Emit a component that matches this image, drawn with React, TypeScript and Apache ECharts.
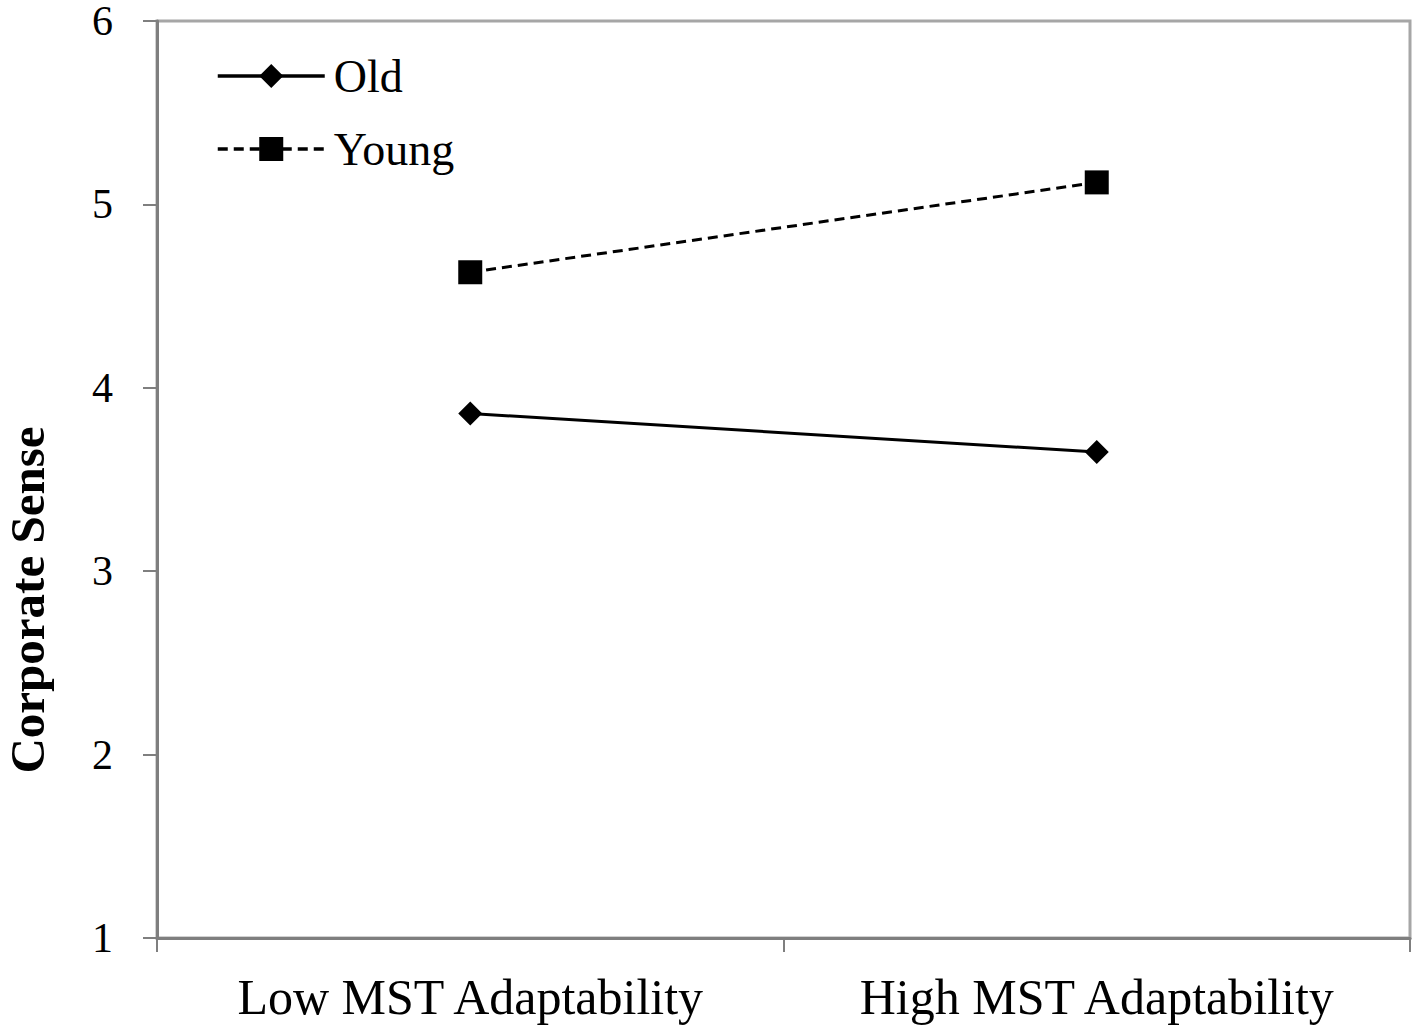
import React, { useEffect, useRef } from "react";
import * as echarts from "echarts";

const categories = ["Low MST Adaptability", "High MST Adaptability"];
const oldValues = [3.86, 3.65];
const youngValues = [4.63, 5.12];
const yTicks = { min: 1, max: 6, interval: 1 };
const yTitle = "Corporate Sense";

const FONT = "'Liberation Serif', 'Times New Roman', serif";

export default function App() {
  const ref = useRef<HTMLDivElement>(null);
  useEffect(() => {
    if (!ref.current) return;
    const chart = echarts.init(ref.current, undefined, { renderer: "svg" });
    chart.setOption({
      animation: false,
      backgroundColor: "#ffffff",
      grid: {
        left: 157,
        top: 20,
        right: 8,
        bottom: 92,
        show: true,
        borderColor: "#a6a6a6",
        borderWidth: 3,
        backgroundColor: "transparent",
      },
      legend: {
        orient: "vertical",
        left: 211,
        top: 48,
        itemWidth: 107,
        itemHeight: 30,
        itemGap: 27,
        data: ["Old", "Young"],
        lineStyle: { width: 3.5 },
        textStyle: {
          fontFamily: FONT,
          fontSize: 46,
          color: "#000",
          padding: [0, 0, 0, 4],
        },
      },
      xAxis: {
        type: "category",
        data: categories,
        boundaryGap: true,
        axisLine: { lineStyle: { color: "#7f7f7f", width: 3 } },
        axisTick: { show: true, length: 14, lineStyle: { color: "#7f7f7f", width: 2 } },
        axisLabel: {
          fontFamily: FONT,
          fontSize: 50,
          color: "#000",
          margin: 34,
        },
        splitLine: { show: false },
      },
      yAxis: {
        type: "value",
        min: yTicks.min,
        max: yTicks.max,
        interval: yTicks.interval,
        axisLine: { show: true, lineStyle: { color: "#7f7f7f", width: 3 } },
        axisTick: { show: true, length: 14, lineStyle: { color: "#7f7f7f", width: 2 } },
        axisLabel: {
          fontFamily: FONT,
          fontSize: 42,
          lineHeight: 28,
          padding: [4, 0, 0, 0],
          color: "#000",
          margin: 44,
        },
        splitLine: { show: false },
      },
      graphic: [
        {
          type: "text",
          x: 27,
          y: 600,
          rotation: Math.PI / 2,
          style: {
            text: yTitle,
            fontFamily: FONT,
            fontSize: 49,
            fontWeight: "bold",
            fill: "#000",
            align: "center",
            verticalAlign: "middle",
          },
        },
      ],
      series: [
        {
          name: "Old",
          type: "line",
          data: oldValues,
          symbol: "diamond",
          symbolSize: 24,
          color: "#000",
          lineStyle: { color: "#000", width: 3, type: "solid" },
          itemStyle: { color: "#000" },
        },
        {
          name: "Young",
          type: "line",
          data: youngValues,
          symbol: "rect",
          symbolSize: 24,
          color: "#000",
          lineStyle: { color: "#000", width: 3, type: [10, 6] },
          itemStyle: { color: "#000" },
        },
      ],
    });
    return () => chart.dispose();
  }, []);
  return (
    <div
      ref={ref}
      style={{ position: "fixed", left: 0, top: 0, width: 1418, height: 1030, background: "#fff" }}
    />
  );
}
